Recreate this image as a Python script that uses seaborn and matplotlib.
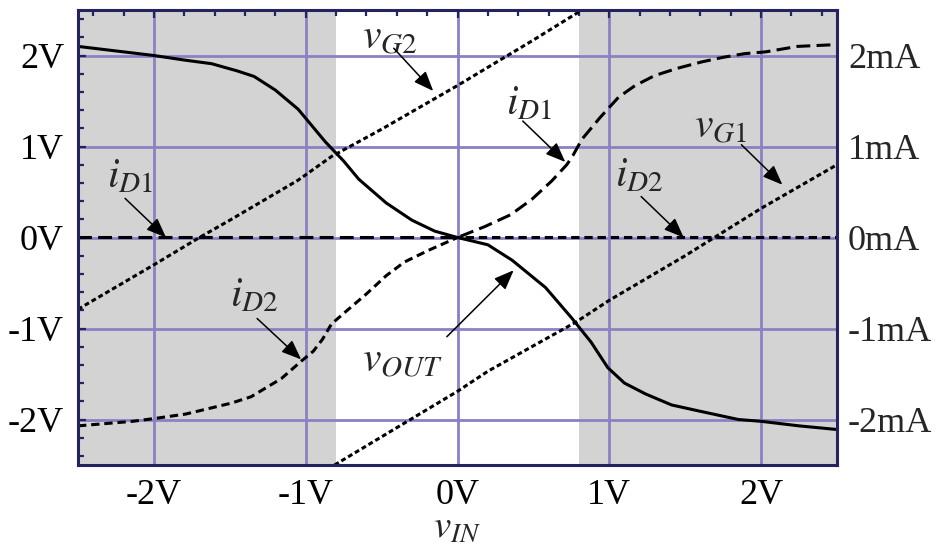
import matplotlib
matplotlib.use('Agg')
import matplotlib.pyplot as plt
from matplotlib.ticker import MultipleLocator
import pandas as pd
import seaborn as sns

# (volts / mA)
vout_x = [-2.5, -2.25, -2.0, -1.8, -1.62, -1.45, -1.34, -1.2, -1.05, -0.95, -0.87, -0.75, -0.65,
          -0.47, -0.3, -0.15, 0.0, 0.2, 0.36, 0.58, 0.75, 0.88, 0.99, 1.1, 1.24, 1.41, 1.6,
          1.85, 2.0, 2.25, 2.5]
vout_y = [2.10, 2.05, 2.0, 1.95, 1.91, 1.83, 1.77, 1.62, 1.41, 1.21, 1.05, 0.84, 0.64,
          0.38, 0.19, 0.07, 0.0, -0.08, -0.25, -0.55, -0.88, -1.15, -1.43, -1.60, -1.72, -1.84, -1.91,
          -2.0, -2.02, -2.07, -2.11]

id1_x = [-2.5, -1.0, 0.0, 0.18, 0.35, 0.49, 0.62, 0.72, 0.76, 0.82, 0.94, 1.06, 1.17, 1.30,
         1.45, 1.61, 1.75, 1.89, 2.03, 2.24, 2.5]
id1_y = [0.0, 0.0, 0.0, 0.12, 0.25, 0.42, 0.62, 0.80, 0.90, 1.08, 1.32, 1.54, 1.67, 1.78,
         1.86, 1.93, 1.98, 2.02, 2.04, 2.10, 2.12]

id2_x = [-2.5, -2.14, -2.0, -1.79, -1.49, -1.36, -1.16, -1.03, -0.95, -0.89, -0.83, -0.74, -0.6,
         -0.47, -0.35, -0.19, 0.0, 1.0, 2.5]
id2_y = [-2.07, -2.02, -1.99, -1.94, -1.82, -1.75, -1.55, -1.36, -1.25, -1.12, -0.95, -0.82, -0.62,
         -0.42, -0.27, -0.14, 0.0, 0.0, 0.0]

vg2_x = [-2.5, -2.44, -2.0, -1.7, -1.5, -1.05, -0.83, -0.5, 0.0, 0.5, 0.82]
vg2_y = [-0.79, -0.73, -0.3, 0.0, 0.19, 0.63, 0.89, 1.19, 1.67, 2.17, 2.5]

vg1_x = [-0.81, -0.37, 0.0, 0.2, 0.5, 0.78, 1.0, 1.5, 2.0, 2.5]
vg1_y = [-2.5, -2.06, -1.69, -1.47, -1.19, -0.93, -0.69, -0.2, 0.32, 0.80]

ticks = [-2, -1, 0, 1, 2]
x_ticklabels = ['-2V', '-1V', '0V', '1V', '2V']
y_ticklabels = ['-2V', '-1V', '0V', '1V', '2V']
r_ticklabels = ['-2mA', '-1mA', '0mA', '1mA', '2mA']

shade_left = (-2.5, -0.8)
shade_right = (0.8, 2.5)

navy = '#23235f'
grid_col = '#8c80c2'

sns.set_theme(style='white')
plt.rcParams['font.family'] = ['Liberation Serif', 'DejaVu Serif']
plt.rcParams['mathtext.fontset'] = 'stix'
plt.rcParams['lines.scale_dashes'] = False

fig = plt.figure(figsize=(9.36, 5.5), dpi=100)
ax = fig.add_axes([78 / 936, 85 / 550, 759 / 936, 455 / 550])

ax.axvspan(*shade_left, color='#d3d3d3', lw=0, zorder=0)
ax.axvspan(*shade_right, color='#d3d3d3', lw=0, zorder=0)

lw = 2.2
sns.lineplot(x=id2_x, y=id2_y, ax=ax, color='black', lw=lw, sort=False, estimator=None,
             linestyle=(0, (6, 3.5)))
sns.lineplot(x=id1_x, y=id1_y, ax=ax, color='black', lw=lw, sort=False, estimator=None,
             linestyle=(0, (10, 4.5)))
sns.lineplot(x=vg2_x, y=vg2_y, ax=ax, color='black', lw=lw, sort=False, estimator=None,
             linestyle=(0, (3.5, 2.2)))
sns.lineplot(x=vg1_x, y=vg1_y, ax=ax, color='black', lw=lw, sort=False, estimator=None,
             linestyle=(0, (3.5, 2.2)))
sns.lineplot(x=vout_x, y=vout_y, ax=ax, color='black', lw=lw, sort=False, estimator=None)

ax.set_xlim(-2.5, 2.5)
ax.set_ylim(-2.5, 2.5)
ax.set_xticks(ticks)
ax.set_xticklabels(x_ticklabels)
ax.set_yticks(ticks)
ax.set_yticklabels(y_ticklabels)
ax.xaxis.set_minor_locator(MultipleLocator(0.2))
ax.yaxis.set_minor_locator(MultipleLocator(0.2))
ax.set_axisbelow(True)
ax.grid(True, which='major', color=grid_col, lw=2.0)
ax.set_facecolor('white')
for s in ax.spines.values():
    s.set_color(navy)
    s.set_linewidth(2.2)
ax.tick_params(which='both', direction='in', top=True, right=True, color=navy, width=1.6,
               labelsize=26, labelcolor='black')
ax.tick_params(which='major', length=6)
ax.tick_params(which='minor', length=4)
ax.tick_params(axis='y', pad=10)
ax.tick_params(axis='x', pad=10)
ax.set_xlabel(r'$v_{IN}$', fontsize=28, labelpad=-2)
ax.set_ylabel('')

ax2 = ax.twinx()
ax2.set_ylim(-2.5, 2.5)
ax2.set_yticks(ticks)
ax2.set_yticklabels(r_ticklabels)
ax2.tick_params(axis='y', length=0, pad=8, labelsize=26)
for s in ax2.spines.values():
    s.set_visible(False)
ax2.grid(False)

# labels and arrows: (text, text position, arrow tail, arrow tip)
notes = [
    (r'$v_{G2}$', (-0.45, 2.19), (-0.42, 2.08), (-0.16, 1.61)),
    (r'$i_{D1}$', (0.47, 1.47), (0.43, 1.28), (0.71, 0.83)),
    (r'$v_{G1}$', (1.73, 1.21), (1.87, 1.02), (2.14, 0.58)),
    (r'$i_{D2}$', (1.20, 0.67), (1.21, 0.45), (1.49, 0.0)),
    (r'$i_{D1}$', (-2.16, 0.66), (-2.19, 0.43), (-1.92, 0.0)),
    (r'$i_{D2}$', (-1.34, -0.64), (-1.32, -0.89), (-1.03, -1.34)),
    (r'$v_{OUT}$', (-0.36, -1.36), (-0.07, -1.09), (0.37, -0.36)),
]
for label, tpos, tail, tip in notes:
    ax.text(tpos[0], tpos[1], label, fontsize=30, ha='center', va='center', zorder=5)
    ax.annotate('', xy=tip, xytext=tail,
                arrowprops=dict(arrowstyle='-|>,head_length=0.55,head_width=0.22',
                                color='black', lw=1.1, mutation_scale=22, shrinkA=0, shrinkB=0),
                zorder=5)

fig.savefig('out.png', dpi=100)
